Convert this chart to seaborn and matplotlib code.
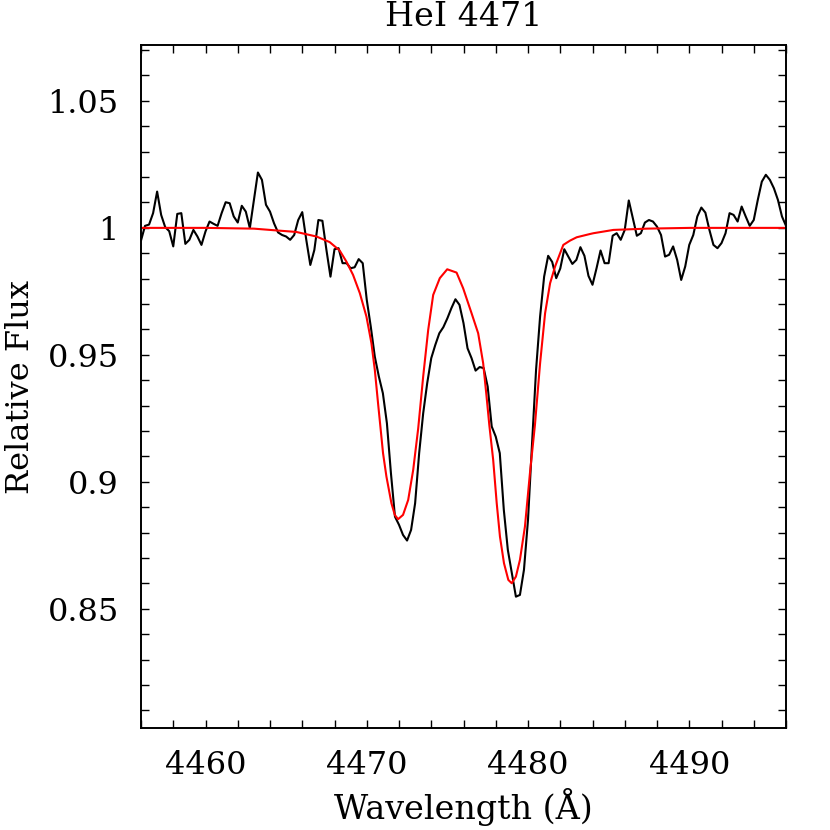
import numpy as np
import pandas as pd
import matplotlib
matplotlib.use('Agg')
import matplotlib.pyplot as plt
import seaborn as sns
from matplotlib.ticker import MultipleLocator, FormatStrFormatter

# observed spectrum, sampled every 0.25 A from 4456 A
wave_start = 4456.0
wave_step = 0.25
obs_flux = [
    0.9950, 1.0008, 1.0013, 1.0058, 1.0143, 1.0051, 1.0003, 0.9987, 0.9927, 1.0055,
    1.0058, 0.9937, 0.9953, 0.9992, 0.9966, 0.9933, 0.9986, 1.0025, 1.0016, 1.0008,
    1.0058, 1.0101, 1.0097, 1.0045, 1.0021, 1.0087, 1.0064, 0.9999, 1.0110, 1.0218,
    1.0189, 1.0091, 1.0064, 1.0018, 0.9982, 0.9972, 0.9966, 0.9953, 0.9972, 1.0031,
    1.0062, 0.9953, 0.9854, 0.9913, 1.0031, 1.0028, 0.9913, 0.9808, 0.9916, 0.9920,
    0.9861, 0.9861, 0.9841, 0.9845, 0.9877, 0.9861, 0.9717, 0.9611, 0.9493, 0.9415,
    0.9349, 0.9231, 0.9034, 0.8863, 0.8831, 0.8791, 0.8769, 0.8811, 0.8916, 0.9113,
    0.9270, 0.9389, 0.9487, 0.9539, 0.9585, 0.9609, 0.9644, 0.9684, 0.9719, 0.9697,
    0.9625, 0.9526, 0.9487, 0.9438, 0.9452, 0.9448, 0.9375, 0.9218, 0.9178, 0.9113,
    0.8890, 0.8732, 0.8640, 0.8548, 0.8555, 0.8654, 0.8850, 0.9150, 0.9441, 0.9651,
    0.9808, 0.9890, 0.9866, 0.9802, 0.9840, 0.9916, 0.9887, 0.9858, 0.9874, 0.9924,
    0.9890, 0.9811, 0.9776, 0.9841, 0.9911, 0.9861, 0.9861, 0.9969, 0.9979, 0.9953,
    0.9992, 1.0108, 1.0038, 0.9969, 0.9979, 1.0021, 1.0031, 1.0025, 1.0005, 0.9972,
    0.9887, 0.9894, 0.9927, 0.9874, 0.9795, 0.9848, 0.9933, 0.9972, 1.0045, 1.0080,
    1.0060, 0.9992, 0.9933, 0.9920, 0.9940, 0.9979, 1.0058, 1.0051, 1.0025, 1.0084,
    1.0045, 1.0008, 1.0031, 1.0110, 1.0182, 1.0209, 1.0189, 1.0156, 1.0110, 1.0045,
    1.0008, 1.0031,
]

# model profile
model_wave = [
    4456.00, 4460.00, 4463.00, 4464.39, 4465.63, 4466.88, 4467.70, 4468.32, 4468.74, 4469.15,
    4469.57, 4469.98, 4470.29, 4470.50, 4470.70, 4470.85, 4471.01, 4471.22, 4471.53, 4471.74,
    4471.94, 4472.25, 4472.57, 4472.88, 4473.19, 4473.50, 4473.81, 4474.12, 4474.53, 4474.99,
    4475.57, 4475.98, 4476.50, 4476.91, 4477.22, 4477.43, 4477.60, 4477.84, 4478.06, 4478.26,
    4478.51, 4478.78, 4478.99, 4479.25, 4479.50, 4479.81, 4480.12, 4480.43, 4480.75, 4481.06,
    4481.37, 4481.68, 4481.99, 4482.19, 4482.61, 4483.02, 4483.85, 4484.06, 4485.30, 4487.37,
    4490.06, 4496.00,
]
model_flux = [
    1.0000, 1.0000, 0.9997, 0.9990, 0.9984, 0.9966, 0.9944, 0.9911, 0.9867, 0.9815,
    0.9743, 0.9651, 0.9546, 0.9441, 0.9310, 0.9215, 0.9113, 0.9021, 0.8916, 0.8870,
    0.8853, 0.8870, 0.8929, 0.9047, 0.9210, 0.9415, 0.9598, 0.9736, 0.9802, 0.9837,
    0.9824, 0.9762, 0.9664, 0.9585, 0.9467, 0.9336, 0.9224, 0.9087, 0.8916, 0.8785,
    0.8680, 0.8614, 0.8601, 0.8627, 0.8693, 0.8824, 0.9034, 0.9224, 0.9467, 0.9664,
    0.9782, 0.9848, 0.9900, 0.9933, 0.9950, 0.9963, 0.9976, 0.9979, 0.9992, 0.9997,
    1.0000, 1.0000,
]

obs = pd.DataFrame({'wave': wave_start + wave_step * np.arange(len(obs_flux)),
                    'flux': obs_flux})
model = pd.DataFrame({'wave': model_wave, 'flux': model_flux})

sns.set_style('ticks')
plt.rcParams['font.family'] = ['DejaVu Serif']
plt.rcParams['text.color'] = 'black'
plt.rcParams['axes.labelcolor'] = 'black'

fig = plt.figure(figsize=(8.3, 8.3), dpi=100)
ax = fig.add_axes([141 / 830, 102 / 830, 645 / 830, 683 / 830])

sns.lineplot(data=obs, x='wave', y='flux', color='black', lw=1.5,
             estimator=None, sort=False, ax=ax)
sns.lineplot(data=model, x='wave', y='flux', color='red', lw=1.5,
             estimator=None, sort=False, ax=ax)

ax.set_xlim(4456, 4496)
ax.set_ylim(0.8031, 1.0720)
ax.xaxis.set_major_locator(MultipleLocator(10))
ax.xaxis.set_minor_locator(MultipleLocator(2))
ax.yaxis.set_major_locator(MultipleLocator(0.05))
ax.yaxis.set_minor_locator(MultipleLocator(0.01))
ax.yaxis.set_major_formatter(FormatStrFormatter('%g'))
ax.tick_params(which='both', direction='in', top=True, right=True,
               length=6, width=1.0, colors='black')
ax.tick_params(which='major', labelsize=23, pad=16)
for s in ax.spines.values():
    s.set_linewidth(1.4)
    s.set_color('black')

ax.set_title('HeI 4471', fontsize=24, pad=14)
ax.set_xlabel('Wavelength (Å)', fontsize=24)
ax.xaxis.set_label_coords(0.5, -0.088)
ax.set_ylabel('Relative Flux', fontsize=23)
ax.yaxis.set_label_coords(-0.163, 0.5)

fig.savefig('out.png', dpi=100)
